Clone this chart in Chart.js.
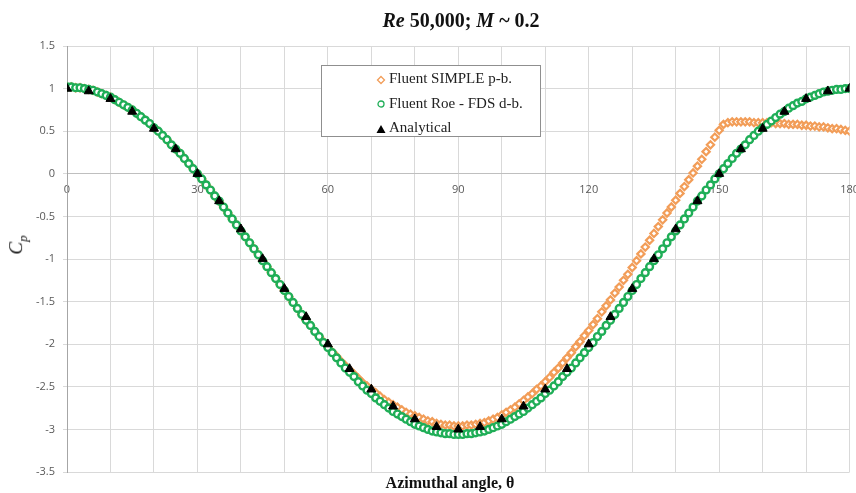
<!DOCTYPE html>
<html>
<head>
<meta charset="utf-8">
<script src="https://cdn.jsdelivr.net/npm/chart.js@4.4.1/dist/chart.umd.min.js"></script>
<style>
  body { margin: 0; background: #fff; }
  #wrap { position: relative; width: 856px; height: 493px; }
  #title { position: absolute; left: 461px; top: 9px; transform: translateX(-50%); white-space: nowrap;
    font: bold 20px "Liberation Serif", "DejaVu Serif", serif; color: #111; }
  #xtitle { position: absolute; left: 450px; top: 474px; transform: translateX(-50%); white-space: nowrap;
    font: bold 16px "Liberation Serif", serif; color: #111; }
  #ytitle { position: absolute; left: 18px; top: 245px; transform: translate(-50%, -50%) rotate(-90deg);
    font: italic 19px "Liberation Serif", serif; color: #111; white-space: nowrap; }
  #ytitle sub { font-size: 13px; }
  #legend { position: absolute; left: 321px; top: 65px; width: 218px; height: 70px; background: #fff;
    border: 1px solid #8f8f8f; font: 15px "Liberation Serif", serif; color: #222; }
  .row { position: absolute; left: 54px; height: 24px; line-height: 24px; white-space: nowrap; }
  .row svg { vertical-align: middle; margin-right: 3px; }
</style>
</head>
<body>
<div id="wrap">
  <canvas id="cp-chart"></canvas>
  <div id="title"><i>Re</i> 50,000; <i>M</i> ~ 0.2</div>
  <div id="ytitle">C<sub>p</sub></div>
  <div id="xtitle">Azimuthal angle, θ</div>
  <div id="legend"></div>
</div>
<script>
// azimuthal angle of the CFD surface samples (deg)
const cfdAngles = [0,1,2,3,4,5,6,7,8,9,10,11,12,13,14,15,16,17,18,19,20,21,22,23,24,25,26,27,28,29,
  30,31,32,33,34,35,36,37,38,39,40,41,42,43,44,45,46,47,48,49,50,51,52,53,54,55,56,57,58,59,
  60,61,62,63,64,65,66,67,68,69,70,71,72,73,74,75,76,77,78,79,80,81,82,83,84,85,86,87,88,89,
  90,91,92,93,94,95,96,97,98,99,100,101,102,103,104,105,106,107,108,109,110,111,112,113,114,115,116,117,118,119,
  120,121,122,123,124,125,126,127,128,129,130,131,132,133,134,135,136,137,138,139,140,141,142,143,144,145,146,147,148,149,
  150,151,152,153,154,155,156,157,158,159,160,161,162,163,164,165,166,167,168,169,170,171,172,173,174,175,176,177,178,179,180];

// Fluent SIMPLE pressure-based
const simpleCp = [1.02,1.02,1.01,1.01,1.00,0.99,0.98,0.96,0.94,0.92,
  0.90,0.87,0.84,0.81,0.78,0.75,0.71,0.67,0.63,0.59,
  0.54,0.50,0.45,0.40,0.34,0.29,0.24,0.18,0.12,0.06,
  0.00,-0.06,-0.13,-0.19,-0.26,-0.32,-0.39,-0.46,-0.53,-0.60,
  -0.67,-0.74,-0.81,-0.88,-0.95,-1.02,-1.09,-1.16,-1.23,-1.30,
  -1.37,-1.44,-1.51,-1.58,-1.65,-1.72,-1.78,-1.85,-1.91,-1.97,
  -2.03,-2.09,-2.14,-2.20,-2.25,-2.30,-2.35,-2.40,-2.45,-2.49,
  -2.53,-2.57,-2.61,-2.65,-2.68,-2.71,-2.74,-2.77,-2.80,-2.82,
  -2.84,-2.86,-2.88,-2.90,-2.91,-2.93,-2.94,-2.95,-2.95,-2.96,
  -2.96,-2.96,-2.95,-2.95,-2.94,-2.93,-2.92,-2.90,-2.88,-2.86,
  -2.83,-2.80,-2.77,-2.74,-2.70,-2.66,-2.62,-2.58,-2.53,-2.49,
  -2.44,-2.39,-2.33,-2.28,-2.22,-2.16,-2.10,-2.03,-1.97,-1.90,
  -1.84,-1.77,-1.70,-1.62,-1.55,-1.48,-1.40,-1.33,-1.25,-1.18,
  -1.10,-1.02,-0.94,-0.86,-0.78,-0.70,-0.62,-0.54,-0.46,-0.39,
  -0.31,-0.23,-0.15,-0.07,0.01,0.09,0.17,0.26,0.34,0.43,
  0.51,0.58,0.60,0.61,0.61,0.61,0.61,0.61,0.60,0.60,
  0.60,0.60,0.60,0.59,0.59,0.59,0.58,0.58,0.58,0.57,
  0.57,0.56,0.56,0.55,0.55,0.54,0.53,0.53,0.52,0.51,0.50];

// Fluent Roe - FDS density-based
const roeCp = [1.02,1.02,1.01,1.01,1.00,0.99,0.98,0.96,0.94,0.92,
  0.90,0.87,0.84,0.81,0.78,0.75,0.71,0.67,0.63,0.59,
  0.54,0.50,0.45,0.40,0.34,0.29,0.24,0.18,0.12,0.06,
  0.00,-0.06,-0.13,-0.19,-0.26,-0.32,-0.39,-0.46,-0.53,-0.60,
  -0.67,-0.74,-0.81,-0.88,-0.95,-1.02,-1.09,-1.16,-1.23,-1.30,
  -1.37,-1.44,-1.51,-1.58,-1.65,-1.72,-1.78,-1.85,-1.91,-1.98,
  -2.04,-2.10,-2.16,-2.22,-2.28,-2.33,-2.38,-2.44,-2.49,-2.54,
  -2.58,-2.63,-2.67,-2.71,-2.75,-2.79,-2.82,-2.85,-2.88,-2.91,
  -2.94,-2.96,-2.98,-3.00,-3.02,-3.03,-3.04,-3.05,-3.05,-3.06,
  -3.06,-3.06,-3.05,-3.05,-3.04,-3.03,-3.02,-3.00,-2.98,-2.96,
  -2.94,-2.91,-2.88,-2.85,-2.82,-2.79,-2.75,-2.71,-2.67,-2.63,
  -2.58,-2.54,-2.49,-2.44,-2.38,-2.33,-2.28,-2.22,-2.16,-2.10,
  -2.04,-1.98,-1.91,-1.85,-1.78,-1.72,-1.65,-1.58,-1.51,-1.44,
  -1.37,-1.30,-1.23,-1.16,-1.09,-1.02,-0.95,-0.88,-0.81,-0.74,
  -0.67,-0.60,-0.53,-0.46,-0.39,-0.32,-0.26,-0.19,-0.13,-0.06,
  0.00,0.06,0.12,0.18,0.24,0.29,0.34,0.40,0.45,0.50,
  0.54,0.58,0.62,0.66,0.70,0.73,0.77,0.80,0.83,0.85,
  0.88,0.90,0.92,0.94,0.96,0.97,0.98,0.99,0.99,1.00,1.00];

// analytical potential flow, every 5 deg
const analyticAngles = [0,5,10,15,20,25,30,35,40,45,50,55,60,65,70,75,80,85,90,
  95,100,105,110,115,120,125,130,135,140,145,150,155,160,165,170,175,180];
const analyticCp = [1.00,0.97,0.88,0.73,0.53,0.29,0.00,-0.32,-0.65,-1.00,-1.35,-1.68,-2.00,-2.29,-2.53,-2.73,-2.88,-2.97,-3.00,
  -2.97,-2.88,-2.73,-2.53,-2.29,-2.00,-1.68,-1.35,-1.00,-0.65,-0.32,0.00,0.29,0.53,0.73,0.88,0.97,1.00];

const xLabels = [0,30,60,90,120,150,180];

const seriesNames = ["Fluent SIMPLE p-b.", "Fluent Roe - FDS d-b.", "Analytical"];
const orange = "#f29d58";
const green = "#1fae57";

const toPoints = (xs, ys) => xs.map((x, i) => ({x: x, y: ys[i]}));

new Chart(document.getElementById("cp-chart"), {
  type: 'scatter',
  data: {
    datasets: [{
      label: seriesNames[0],
      data: toPoints(cfdAngles, simpleCp),
      pointStyle: 'rectRot',
      pointRadius: 3.6,
      borderWidth: 2.2,
      borderColor: orange,
      backgroundColor: '#fff',
      order: 3
    }, {
      label: seriesNames[1],
      data: toPoints(cfdAngles, roeCp),
      pointStyle: 'circle',
      pointRadius: 3.4,
      borderWidth: 2.4,
      borderColor: green,
      backgroundColor: '#fff',
      order: 2
    }, {
      label: seriesNames[2],
      data: toPoints(analyticAngles, analyticCp),
      pointStyle: 'triangle',
      pointRadius: 5.2,
      borderWidth: 1,
      borderColor: '#000',
      backgroundColor: '#000',
      order: 1
    }]
  },
  options: {
    responsive: true,
    maintainAspectRatio: false,
    animation: false,
    layout: { padding: { left: 0, right: 6, top: 46, bottom: 21 } },
    plugins: { legend: { display: false }, tooltip: { enabled: false } },
    scales: {
      x: {
        type: 'linear',
        position: { y: 0 },
        min: 0, max: 180,
        grid: { color: '#d9d9d9', drawTicks: false },
        border: { color: '#bfbfbf' },
        ticks: {
          stepSize: 10, autoSkip: false, maxRotation: 0, padding: 9,
          color: '#595959', font: { family: 'Open Sans', size: 11 },
          callback: v => xLabels.includes(v) ? String(v) : ''
        },
        afterFit: s => { s.height = 0; s.paddingLeft = 0; s.paddingRight = 0; }
      },
      y: {
        min: -3.5, max: 1.5,
        grid: { color: '#d9d9d9', tickLength: 4 },
        border: { color: '#a6a6a6' },
        ticks: {
          stepSize: 0.5, padding: 8, color: '#595959', font: { family: 'Open Sans', size: 11 },
          callback: v => String(Math.round(v * 10) / 10)
        },
        afterFit: s => { s.width = 67; }
      }
    }
  }
});

// legend box, drawn as html like the original floating legend
const markers = [
  '<svg width="10" height="10"><polygon points="5,1.5 8.5,5 5,8.5 1.5,5" fill="#fff" stroke="' + orange + '" stroke-width="1.3"/></svg>',
  '<svg width="10" height="10"><circle cx="5" cy="5" r="3" fill="#fff" stroke="' + green + '" stroke-width="1.3"/></svg>',
  '<svg width="10" height="10"><polygon points="5,1 9.5,9 0.5,9" fill="#000"/></svg>'
];
const legend = document.getElementById('legend');
seriesNames.forEach((name, i) => {
  const row = document.createElement('div');
  row.className = 'row';
  row.style.top = (i * 24.5) + 'px';
  row.innerHTML = markers[i] + name;
  legend.appendChild(row);
});
</script>
</body>
</html>
